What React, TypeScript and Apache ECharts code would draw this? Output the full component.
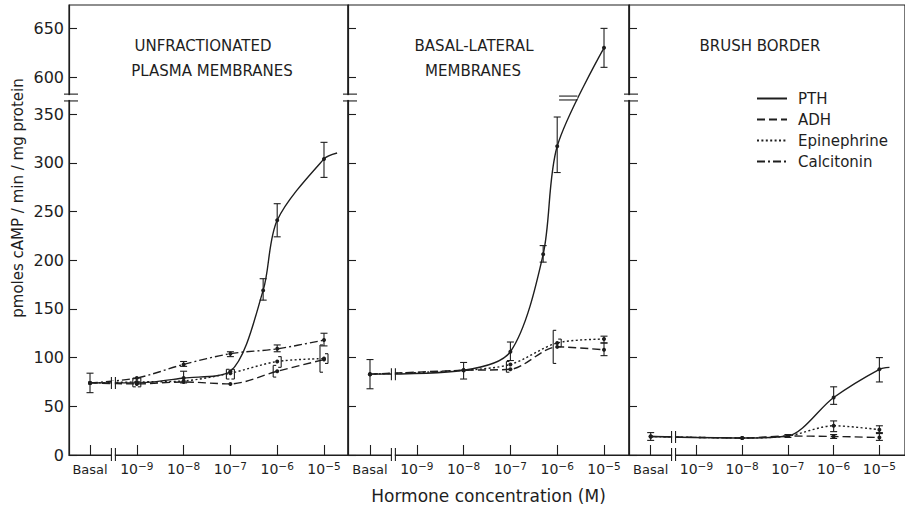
import React, { useEffect, useRef } from 'react';
import * as echarts from 'echarts';

// ---------- axis definitions ----------
const X_TICKS = [-10, -9, -8, -7, -6, -5];
const X_TICK_LABELS = ['Basal', '10^−9', '10^−8', '10^−7', '10^−6', '10^−5'];
const Y_TICK_VALUES = [0, 50, 100, 150, 200, 250, 300, 350, 600, 650];
const VALUE_SHIFT = 212; // values of 600 and above are drawn this far down (scale break)
const SERIES_NAMES = ['PTH', 'ADH', 'Epinephrine', 'Calcitonin'];
const PANEL_TITLES = [['UNFRACTIONATED', 'PLASMA MEMBRANES'], ['BASAL-LATERAL', 'MEMBRANES'], ['BRUSH BORDER']];
const X_NAME = 'Hormone concentration (M)';
const Y_NAME = 'pmoles cAMP / min / mg protein';

// ---------- panel 1: unfractionated plasma membranes ----------
const p1X = [-10, -9, -8, -7, -6, -5];
const p1PthX = [-10, -9, -8, -7, -6.3, -6, -5];
const p1Pth = [74, 74, 79, 86, 169, 241, 304];
const p1PthEnd = [-4.72, 310];
const p1Adh = [74, 73, 75, 73, 86, 98];
const p1Epi = [74, 75, 76, 84, 96, 99];
const p1Cal = [74, 79, 93, 104, 109, 118];
// [x, low, high, kind]  kind: I = bar with caps, L = left bracket, R = right bracket, B = box
const p1Err: [number, number, number, string][] = [
  [-10, 64, 84, 'I'],
  [-9, 70, 79, 'B'],
  [-8, 74, 86, 'I'],
  [-8, 91, 96, 'I'],
  [-7, 78, 88, 'B'],
  [-7, 101, 106, 'I'],
  [-6.3, 159, 181, 'I'],
  [-6, 224, 258, 'I'],
  [-6, 106, 113, 'I'],
  [-6, 90, 101, 'R'],
  [-6, 80, 92, 'L'],
  [-5, 285, 321, 'I'],
  [-5, 112, 125, 'I'],
  [-5, 94, 104, 'R'],
  [-5, 85, 113, 'L'],
];

// ---------- panel 2: basal-lateral membranes ----------
const p2X = [-10, -8, -7, -6, -5];
const p2PthX = [-10, -8, -7, -6.3, -6, -5];
const p2Pth = [83, 87, 106, 206, 317, 630];
const p2Adh = [83, 87, 88, 111, 108];
const p2Epi = [83, 87, 93, 115, 119];
const p2Err: [number, number, number, string][] = [
  [-10, 68, 98, 'I'],
  [-8, 78, 95, 'I'],
  [-7, 97, 116, 'I'],
  [-7, 85, 96, 'L'],
  [-6.3, 198, 215, 'I'],
  [-6, 290, 347, 'I'],
  [-6, 94, 128, 'L'],
  [-6, 111, 119, 'R'],
  [-5, 610, 650, 'I'],
  [-5, 115, 122, 'I'],
  [-5, 102, 115, 'I'],
];

// ---------- panel 3: brush border ----------
const p3X = [-10, -8, -7, -6, -5];
const p3Pth = [19, 17.5, 19.5, 59, 88];
const p3PthEnd = [-4.78, 90];
const p3Adh = [19, 17.5, 19.5, 19, 18];
const p3Epi = [19, 17.5, 19.5, 30, 26];
const p3Err: [number, number, number, string][] = [
  [-10, 15, 23, 'I'],
  [-7, 18, 21, 'I'],
  [-6, 52, 70, 'I'],
  [-5, 75, 100, 'I'],
  [-6, 24, 35, 'I'],
  [-6, 17, 21, 'I'],
  [-5, 23, 30, 'I'],
  [-5, 15, 22, 'I'],
];

// basal level of each panel (where the Basal→10^-9 line is broken)
const PANEL_BASAL = [74, 83, 18.5];

const INK = '#1e1e1e';
const FONT = 'DejaVu Sans';
const KIND: Record<string, number> = { I: 0, L: 1, R: 2, B: 3 };

const disp = (v: number) => (v >= 600 ? v - VALUE_SHIFT : v);

const DASH: Record<string, any> = {
  PTH: 'solid',
  ADH: [8, 4],
  Epinephrine: [2, 2.4],
  Calcitonin: [8, 3, 2, 3],
};

const GRIDS = [
  { left: 69, width: 279, min: -10.449, max: -4.487 },
  { left: 348, width: 281, min: -10.47, max: -4.466 },
  { left: 629, width: 280, min: -10.474, max: -4.44 },
];
const GRID_TOP = 5;
const GRID_HEIGHT = 450;
const Y_MAX = 462;
const AXIS_BREAK_X = -9.5;
const Y_BREAK_LOW = 363.5;
const Y_BREAK_HIGH = 370.5;

function lineSeries(name: string, panel: number, xs: number[], ys: number[], end?: number[]) {
  const data: any[] = xs.map((x, i) => ({ value: [x, disp(ys[i])], symbol: 'circle' }));
  if (end) data.push({ value: [end[0], disp(end[1])], symbol: 'none' });
  return {
    type: 'line',
    name,
    xAxisIndex: panel,
    yAxisIndex: panel,
    data,
    symbol: 'none',
    symbolSize: 4,
    showSymbol: true,
    smooth: 0.3,
    silent: true,
    lineStyle: { color: INK, width: 1.4, type: DASH[name] },
    itemStyle: { color: INK },
    z: 3,
  };
}

function errorSeries(panel: number, err: [number, number, number, string][]) {
  return {
    type: 'custom',
    xAxisIndex: panel,
    yAxisIndex: panel,
    silent: true,
    clip: false,
    z: 4,
    encode: { x: 0, y: [1, 2] },
    data: err.map((e) => [e[0], disp(e[1]), disp(e[2]), KIND[e[3]]]),
    renderItem: (params: any, api: any) => {
      const x = api.value(0);
      const a = api.coord([x, api.value(1)]);
      const b = api.coord([x, api.value(2)]);
      const k = api.value(3);
      const st = { stroke: INK, lineWidth: 1.1 };
      const ln = (x1: number, y1: number, x2: number, y2: number) => ({
        type: 'line',
        shape: { x1, y1, x2, y2 },
        style: st,
      });
      const ch: any[] = [];
      if (k === 0) {
        ch.push(ln(a[0], a[1], b[0], b[1]));
        ch.push(ln(a[0] - 3.5, a[1], a[0] + 3.5, a[1]));
        ch.push(ln(b[0] - 3.5, b[1], b[0] + 3.5, b[1]));
      }
      if (k === 1 || k === 3) {
        const xx = a[0] - 4;
        ch.push(ln(xx, a[1], xx, b[1]));
        ch.push(ln(xx, a[1], xx + 3, a[1]));
        ch.push(ln(xx, b[1], xx + 3, b[1]));
      }
      if (k === 2 || k === 3) {
        const xx = a[0] + 4;
        ch.push(ln(xx, a[1], xx, b[1]));
        ch.push(ln(xx - 3, a[1], xx, a[1]));
        ch.push(ln(xx - 3, b[1], xx, b[1]));
      }
      return { type: 'group', children: ch };
    },
  };
}

function decorSeries(panel: number) {
  const g = GRIDS[panel];
  const items: any[] = [
    { kind: 'ybreak' },
    { kind: 'xbreak' },
    { kind: 'linebreak', y: PANEL_BASAL[panel] },
  ];
  if (panel === 1) items.push({ kind: 'curvebreak', x1: -5.96, x2: -5.57 });
  return {
    type: 'custom',
    xAxisIndex: panel,
    yAxisIndex: panel,
    silent: true,
    clip: false,
    z: 6,
    data: items.map((_, i) => [g.min, 0, i]),
    encode: { x: 0, y: 1 },
    renderItem: (params: any, api: any) => {
      const it = items[params.dataIndex];
      const st = { stroke: INK, lineWidth: 1.1 };
      const white = { fill: '#ffffff', stroke: null };
      const ch: any[] = [];
      const ln = (x1: number, y1: number, x2: number, y2: number) => ({
        type: 'line',
        shape: { x1, y1, x2, y2 },
        style: st,
      });
      if (it.kind === 'ybreak') {
        const lo = api.coord([g.min, Y_BREAK_LOW]);
        const hi = api.coord([g.min, Y_BREAK_HIGH]);
        ch.push({ type: 'rect', shape: { x: lo[0] - 2.5, y: hi[1] + 1, width: 5, height: lo[1] - hi[1] - 2 }, style: white });
        ch.push(ln(lo[0] - 5, lo[1], lo[0] + 9, lo[1]));
        ch.push(ln(hi[0] - 5, hi[1], hi[0] + 9, hi[1]));
      } else if (it.kind === 'xbreak') {
        const p = api.coord([AXIS_BREAK_X, 0]);
        ch.push({ type: 'rect', shape: { x: p[0] - 1.4, y: p[1] - 2, width: 2.8, height: 4 }, style: white });
        ch.push(ln(p[0] - 2, p[1] - 7, p[0] - 2, p[1] + 6));
        ch.push(ln(p[0] + 2, p[1] - 7, p[0] + 2, p[1] + 6));
      } else if (it.kind === 'linebreak') {
        const p = api.coord([AXIS_BREAK_X, it.y]);
        ch.push({ type: 'rect', shape: { x: p[0] - 1.4, y: p[1] - 2.5, width: 2.8, height: 5 }, style: white });
        ch.push(ln(p[0] - 2, p[1] - 6, p[0] - 2, p[1] + 6));
        ch.push(ln(p[0] + 2, p[1] - 6, p[0] + 2, p[1] + 6));
      } else if (it.kind === 'curvebreak') {
        const a = api.coord([it.x1, Y_BREAK_LOW + 1]);
        const b = api.coord([it.x2, Y_BREAK_HIGH - 2]);
        ch.push({ type: 'rect', shape: { x: a[0], y: b[1] + 1, width: b[0] - a[0], height: a[1] - b[1] - 2 }, style: white });
        ch.push(ln(a[0], a[1], b[0], a[1]));
        ch.push(ln(a[0], b[1], b[0], b[1]));
      }
      return { type: 'group', children: ch };
    },
  };
}

function xLabelFormatter(v: number) {
  const i = X_TICKS.findIndex((t) => Math.abs(t - v) < 1e-6);
  if (i < 0) return '';
  const lab = X_TICK_LABELS[i];
  if (lab === 'Basal') return '{b|Basal}';
  const [base, exp] = lab.split('^');
  return `{n|${base}}{s|${exp}}`;
}

export default function App() {
  const ref = useRef<HTMLDivElement>(null);
  useEffect(() => {
    if (!ref.current) return;
    const chart = echarts.init(ref.current, undefined, { renderer: 'svg' });
    const yDisp = Y_TICK_VALUES.map(disp);

    const grid = GRIDS.map((g) => ({
      left: g.left,
      top: GRID_TOP,
      width: g.width,
      height: GRID_HEIGHT,
      show: true,
      borderColor: INK,
      borderWidth: 1.2,
      backgroundColor: 'transparent',
    }));

    const xAxis = GRIDS.map((g, i) => ({
      type: 'value',
      gridIndex: i,
      min: g.min,
      max: g.max,
      axisLine: { show: true, lineStyle: { color: INK, width: 1.2 } },
      axisTick: { show: true, inside: true, length: 10, customValues: X_TICKS, lineStyle: { color: INK, width: 1.1 } },
      axisLabel: {
        show: true,
        customValues: X_TICKS,
        margin: 5,
        formatter: xLabelFormatter,
        color: INK,
        rich: {
          b: { fontSize: 13, fontFamily: FONT, color: INK, lineHeight: 18 },
          n: { fontSize: 14, fontFamily: FONT, color: INK, lineHeight: 18 },
          s: { fontSize: 10.5, fontFamily: FONT, color: INK, lineHeight: 11, verticalAlign: 'top' },
        },
      },
      splitLine: { show: false },
      name: i === 1 ? X_NAME : '',
      nameLocation: 'middle',
      nameGap: 32,
      nameTextStyle: { fontSize: 17, fontFamily: FONT, color: INK },
    }));

    const yAxis = GRIDS.map((g, i) => ({
      type: 'value',
      gridIndex: i,
      min: 0,
      max: Y_MAX,
      axisLine: { show: true, lineStyle: { color: INK, width: 1.2 } },
      axisTick: { show: true, inside: true, length: 8, customValues: yDisp, lineStyle: { color: INK, width: 1.1 } },
      axisLabel: {
        show: i === 0,
        customValues: yDisp,
        margin: 5,
        fontSize: 16,
        fontFamily: FONT,
        color: INK,
        formatter: (v: number) => String(v > 380 ? v + VALUE_SHIFT : v),
      },
      splitLine: { show: false },
    }));

    const series: any[] = [
      lineSeries('Calcitonin', 0, p1X, p1Cal),
      lineSeries('Epinephrine', 0, p1X, p1Epi),
      lineSeries('ADH', 0, p1X, p1Adh),
      lineSeries('PTH', 0, p1PthX, p1Pth, p1PthEnd),
      lineSeries('Epinephrine', 1, p2X, p2Epi),
      lineSeries('ADH', 1, p2X, p2Adh),
      lineSeries('PTH', 1, p2PthX, p2Pth),
      lineSeries('Epinephrine', 2, p3X, p3Epi),
      lineSeries('ADH', 2, p3X, p3Adh),
      lineSeries('PTH', 2, p3X, p3Pth, p3PthEnd),
      errorSeries(0, p1Err),
      errorSeries(1, p2Err),
      errorSeries(2, p3Err),
      decorSeries(0),
      decorSeries(1),
      decorSeries(2),
    ];

    const titleCenters = [[203, 212], [474, 473], [760]];
    const graphic: any[] = [];
    PANEL_TITLES.forEach((lines, p) => {
      lines.forEach((t, j) => {
        graphic.push({
          type: 'text',
          x: titleCenters[p][j],
          y: 46 + j * 25,
          silent: true,
          style: { text: t, fontSize: 15, fontFamily: FONT, fill: INK, align: 'center', verticalAlign: 'middle' },
        });
      });
    });
    graphic.push({
      type: 'text',
      x: 18,
      y: 198,
      rotation: Math.PI / 2,
      silent: true,
      style: { text: Y_NAME, fontSize: 15, fontFamily: FONT, fill: INK, align: 'center', verticalAlign: 'middle' },
    });

    chart.setOption({
      animation: false,
      backgroundColor: '#ffffff',
      grid,
      xAxis,
      yAxis,
      series,
      graphic,
      legend: {
        data: SERIES_NAMES,
        orient: 'vertical',
        left: 751,
        top: 86,
        itemWidth: 30,
        itemHeight: 14,
        itemGap: 6,
        selectedMode: false,
        itemStyle: { opacity: 0 },
        textStyle: { fontSize: 15, fontFamily: FONT, color: INK, padding: [0, 0, 0, 6] },
      },
    });
    return () => chart.dispose();
  }, []);
  return (
    <div
      ref={ref}
      style={{ position: 'fixed', left: 0, top: 0, width: 905, height: 509, background: '#ffffff' }}
    />
  );
}
